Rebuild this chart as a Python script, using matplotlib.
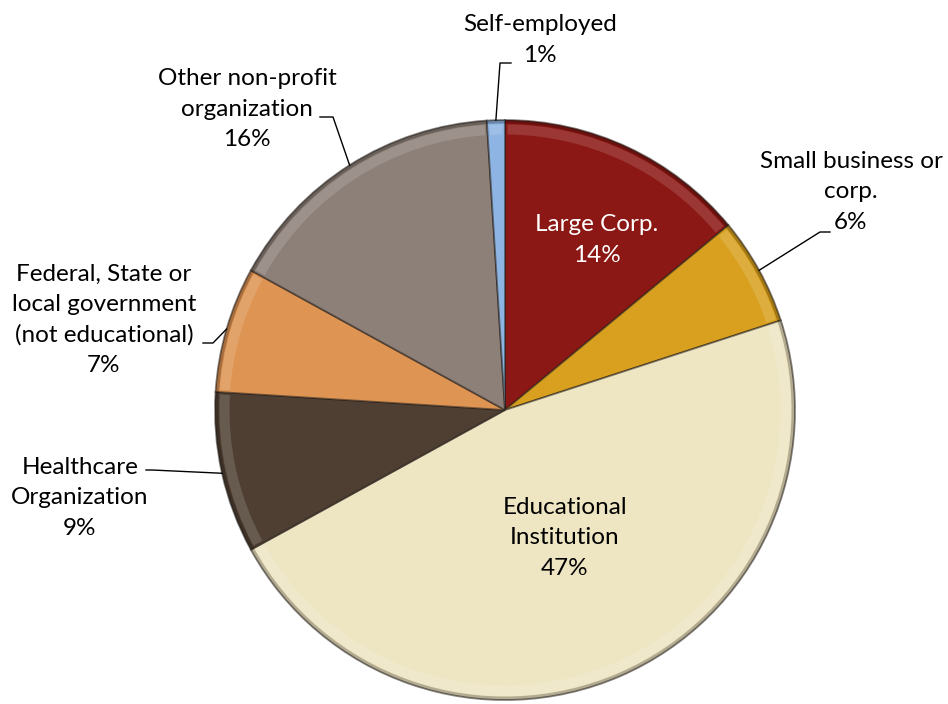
import numpy as np
import matplotlib.pyplot as plt
from matplotlib.patches import Wedge

categories = ["Large Corp.", "Small business or\ncorp.", "Educational\nInstitution",
              "Healthcare\nOrganization", "Federal, State or\nlocal government\n(not educational)",
              "Other non-profit\norganization", "Self-employed"]
shares = [14, 6, 47, 9, 7, 16, 1]
colors = ["#8B1814", "#D8A01E", "#EEE5C3", "#4F3F33", "#DE9453", "#8D8078", "#8DB4E2"]
explode = [0, 0, 0.027, 0, 0, 0, 0]

W, H = 948, 704
CX, CY, R = 505, 410, 290


def px(x, y):
    # pixel coords from the top-left corner -> data coords
    return x, H - y


fig = plt.figure(figsize=(9.48, 7.04), dpi=100)
ax = fig.add_axes([0, 0, 1, 1])

wedges, _ = ax.pie(shares, colors=colors, explode=explode, startangle=90,
                   counterclock=False, center=px(CX, CY), radius=R, frame=True,
                   wedgeprops=dict(edgecolor=(0.15, 0.12, 0.1, 0.55), linewidth=1.3))
ax.set_xlim(0, W)
ax.set_ylim(0, H)
ax.set_aspect("equal")
ax.axis("off")

# soft bevel: light inner rim and a darker outer shadow on each wedge
for w in wedges:
    ax.add_patch(Wedge(w.center, w.r * 0.985, w.theta1 + 0.5, w.theta2 - 0.5,
                       width=w.r * 0.035, facecolor="white", alpha=0.14, edgecolor="none"))
    ax.add_patch(Wedge(w.center, w.r, w.theta1, w.theta2, width=w.r * 0.012,
                       facecolor="black", alpha=0.25, edgecolor="none"))

font = dict(family=["Lato", "DejaVu Sans"], fontsize=17.5, ha="center", va="center",
            linespacing=1.55)

# (label centre, elbow point, end of short tick) in pixels; None = label inside
layout = [
    ((597, 240), None, None),
    ((851, 192), (820, 232), (830, 232)),
    ((565, 538), None, None),
    ((80, 498), (152, 470), (146, 470)),
    ((104, 320), (213, 343), (203, 343)),
    ((247, 109), (333, 117), (320, 117)),
    ((540, 40), (500, 63), (511, 63)),
]

for w, name, share, (pos, elbow, tick) in zip(wedges, categories, shares, layout):
    text = f"{name}\n{share}%"
    color = "white" if name == "Large Corp." else "black"
    ax.text(*px(*pos), text, color=color, **font)
    if elbow is None:
        continue
    mid = np.deg2rad((w.theta1 + w.theta2) / 2)
    x0 = w.center[0] + w.r * np.cos(mid)
    y0 = w.center[1] + w.r * np.sin(mid)
    ex, ey = px(*elbow)
    tx, ty = px(*tick)
    ax.plot([x0, ex, tx], [y0, ey, ty], color="black", linewidth=1)

fig.savefig("out.png", dpi=100)
